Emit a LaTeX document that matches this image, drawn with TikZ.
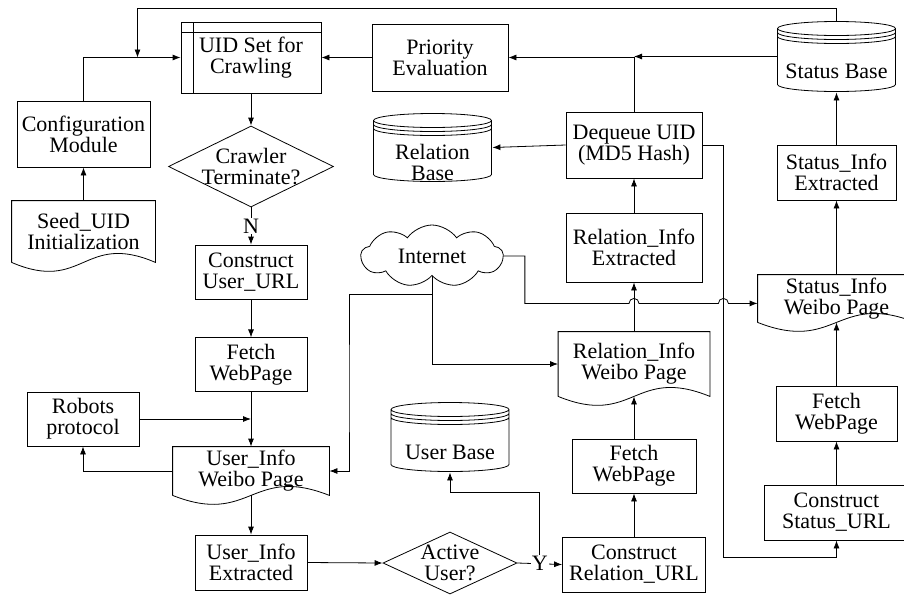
\documentclass[tikz,border=0pt]{standalone}
\usepackage{fontspec}
\setmainfont{Liberation Serif}
\usepackage{tikz}
\usetikzlibrary{shapes.geometric,
                shapes.symbols,
                positioning,
                calc,
                arrows.meta}
\tikzset{procbox/.style = {
                     draw,
                     rectangle,
                     align=center,
                     inner sep=2pt,
                     minimum height=54
                    },
         uidbox/.style = {
                     procbox,
                     path picture={
                        \draw ([xshift=12pt]path picture bounding box.north west)
                           -- ([xshift=12pt]path picture bounding box.south west);
                        \draw ([yshift=-10pt]path picture bounding box.north west)
                           -- ([yshift=-10pt]path picture bounding box.north east);
                     }
         },
         decision/.style = {
                     draw,
                     diamond,
                     aspect=2,
                     align=center
         },
         docpage/.style = {
                     align=center,
                     inner sep=2pt
         },
         dbase/.style = {
                     align=center,
                     inner sep=0pt,
                     minimum width=119,
                     minimum height=70,
                     path picture={
                        \draw let \p1=($(path picture bounding box.south west)+(0.5pt,0.5pt)$),
                                  \p2=($(path picture bounding box.north east)-(0.5pt,0.5pt)$),
                                  \n1={(\x2-\x1)/2},
                                  \n2={7pt} in
                           (\x1,\y2-\n2) -- (\x1,\y1+\n2)
                           arc[start angle=180, end angle=360, x radius=\n1, y radius=\n2]
                           -- (\x2,\y2-\n2)
                           arc[start angle=0, end angle=360, x radius=\n1, y radius=\n2]
                           (\x1,\y2-\n2-4pt)
                           arc[start angle=180, end angle=360, x radius=\n1, y radius=\n2]
                           (\x1,\y2-\n2-8pt)
                           arc[start angle=180, end angle=360, x radius=\n1, y radius=\n2];
                     }
         },
         netcloud/.style = {
                     draw,
                     cloud,
                     cloud puffs=9,
                     cloud puff arc=110,
                     aspect=2.6,
                     inner sep=-4pt,
                     minimum width=142,
                     minimum height=62
         },
         lbl/.style = {
                     fill=white,
                     inner sep=1pt
         }
        }
\newcommand{\dbspace}{\rule{0pt}{45pt}}

\begin{document}
\begin{tikzpicture}[x=1pt, y=-1pt,
                    font=\fontsize{22}{21}\selectfont,
                    line width=0.8pt,
                    >={Latex[length=8pt,width=6pt]}]
        \useasboundingbox (0,0) rectangle (904,595);

        \node[uidbox, minimum width=140, minimum height=71] (uid) at (251,57.5) {UID Set for\\Crawling};
        \node[procbox, minimum width=133, minimum height=66] (config) at (83.5,134) {Configuration\\Module};
        \node[docpage, minimum width=143, minimum height=61] (seed) at (83.5,231.5) {Seed\_UID\\Initialization};
        \node[decision, minimum width=165, minimum height=81, inner sep=-5pt] (crawl) at (251,166.5) {Crawler\\Terminate?};
        \node[procbox, minimum width=112] (cuser) at (251,272) {Construct\\User\_URL};
        \node[procbox, minimum width=112, below=38pt of cuser] (fetchu) {Fetch\\WebPage};
        \node[procbox, minimum width=112] (robots) at (83,419) {Robots\\protocol};
        \node[docpage, minimum width=156, minimum height=48] (userpage) at (251,471) {User\_Info\\Weibo Page};
        \node[procbox, minimum width=112, minimum height=55] (userext) at (251,562.5) {User\_Info\\Extracted};

        \node[netcloud] (internet) at (432,256) {Internet};
        \node[dbase] (userbase) at (450,437) {\dbspace User Base};
        \node[decision, minimum width=134, minimum height=62, inner sep=-3pt] (active) at (450,563) {Active\\User?};
        \node[procbox, minimum width=136, minimum height=67] (prio) at (440,57.5) {Priority\\Evaluation};
        \node[dbase, minimum height=69] (relbase) at (432.5,147.5) {\dbspace Relation\\Base};

        \node[procbox, minimum width=136, minimum height=66] (deq) at (634,145) {Dequeue UID\\(MD5 Hash)};
        \node[procbox, minimum width=136, minimum height=69] (relext) at (634,247.5) {Relation\_Info\\Extracted};
        \node[docpage, minimum width=151, minimum height=64] (relpage) at (634,364) {Relation\_Info\\Weibo Page};
        \node[procbox, minimum width=124] (fetchr) at (634,466) {Fetch\\WebPage};
        \node[procbox, minimum width=143, minimum height=55] (crel) at (634,564.5) {Construct\\Relation\_URL};

        \node[dbase, minimum height=71] (statbase) at (836.5,56.5) {\dbspace Status Base};
        \node[procbox, minimum width=119, minimum height=55] (statext) at (836.5,172.5) {Status\_Info\\Extracted};
        \node[docpage, minimum width=157, minimum height=47] (statpage) at (836.5,298.5) {Status\_Info\\Weibo Page};
        \node[procbox, minimum width=121, minimum height=55] (fetchs) at (836.5,413.5) {Fetch\\WebPage};
        \node[procbox, minimum width=145, minimum height=55] (cstat) at (836.5,512.5) {Construct\\Status\_URL};

        \foreach \pg in {seed,userpage,relpage,statpage}
            \path[draw] (\pg.south west) -- (\pg.north west) -- (\pg.north east) -- (\pg.south east)
                .. controls ($(\pg.south west)!0.5!(\pg.south east)+(0,-31)$)
                and ($(\pg.south west)!0.5!(\pg.south east)+(0,31)$) .. (\pg.south west);

        \coordinate (loopin) at ($(config.north |- uid.west)+(54,0)$);
        \coordinate (deqturn) at ($(deq.east)+(21,0)$);

        \path[draw,->] (seed.north) -- (config.south);
        \path[draw,->] (config.north) |- (uid.west);
        \path[draw,->] (statbase.north) -- ++(0,-12) -| (loopin);
        \path[draw,->] (uid.south) -- (crawl.north);
        \path[draw,->] (crawl.south) -- node[lbl] (nlab) {N} (cuser.north);
        \path[draw,->] (cuser.south) -- (fetchu.north);
        \path[draw,->] (fetchu.south) -- (userpage.north);
        \path[draw,->] (robots.east) -- (robots.east -| fetchu.south);
        \path[draw,->] (userpage.west) -| (robots.south);
        \path[draw,->] (userpage.south) -- (userext.north);
        \path[draw,->] (userext.east) -- (active.west);
        \path[draw,->] (active.east) -- node[lbl] (ylab) {Y} (crel.west);
        \path[draw,->] (ylab.north) |- ($(userbase.south)+(0,20)$) -| (userbase.south);

        \path[draw,->] (crel.north) -- (fetchr.south);
        \path[draw,->] (fetchr.north) -- (relpage.south);
        \path[draw,->] (relpage.north) -- (relext.south);
        \path[draw,->] (relext.north) -- (deq.south);
        \path[draw,->] (deq.west) -- (relbase.east);
        \path[draw,->] (deq.north) |- (prio.east);
        \path[draw,->] (statbase.west) -- (statbase.west -| deq.north);
        \path[draw,->] (prio.west) -- (uid.east);
        \path[draw,->] (deq.east) -- (deqturn) |- ($(cstat.south)+(0,17)$) -- (cstat.south);

        \path[draw,->] (cstat.north) -- (fetchs.south);
        \path[draw,->] (fetchs.north) -- (statpage.south);
        \path[draw,->] (statpage.north) -- (statext.south);
        \path[draw,->] (statext.north) -- (statbase.south);

        \path[draw,->] (internet.south) |- (relpage.west);
        \path[draw,->] (internet.south) ++(0,18) -| ++(-83,100) |- (userpage.east);
        \path[draw,->] (internet.east) -- ++(21,0) |- ($(relext.south)+(-5,21)$)
            arc[start angle=180, end angle=0, radius=5pt]
            -- ($(relext.south -| deqturn)+(-5,21)$)
            arc[start angle=180, end angle=0, radius=5pt]
            -- ($(relext.south -| statpage.west)+(0,21)$);
    \end{tikzpicture}
\end{document}
